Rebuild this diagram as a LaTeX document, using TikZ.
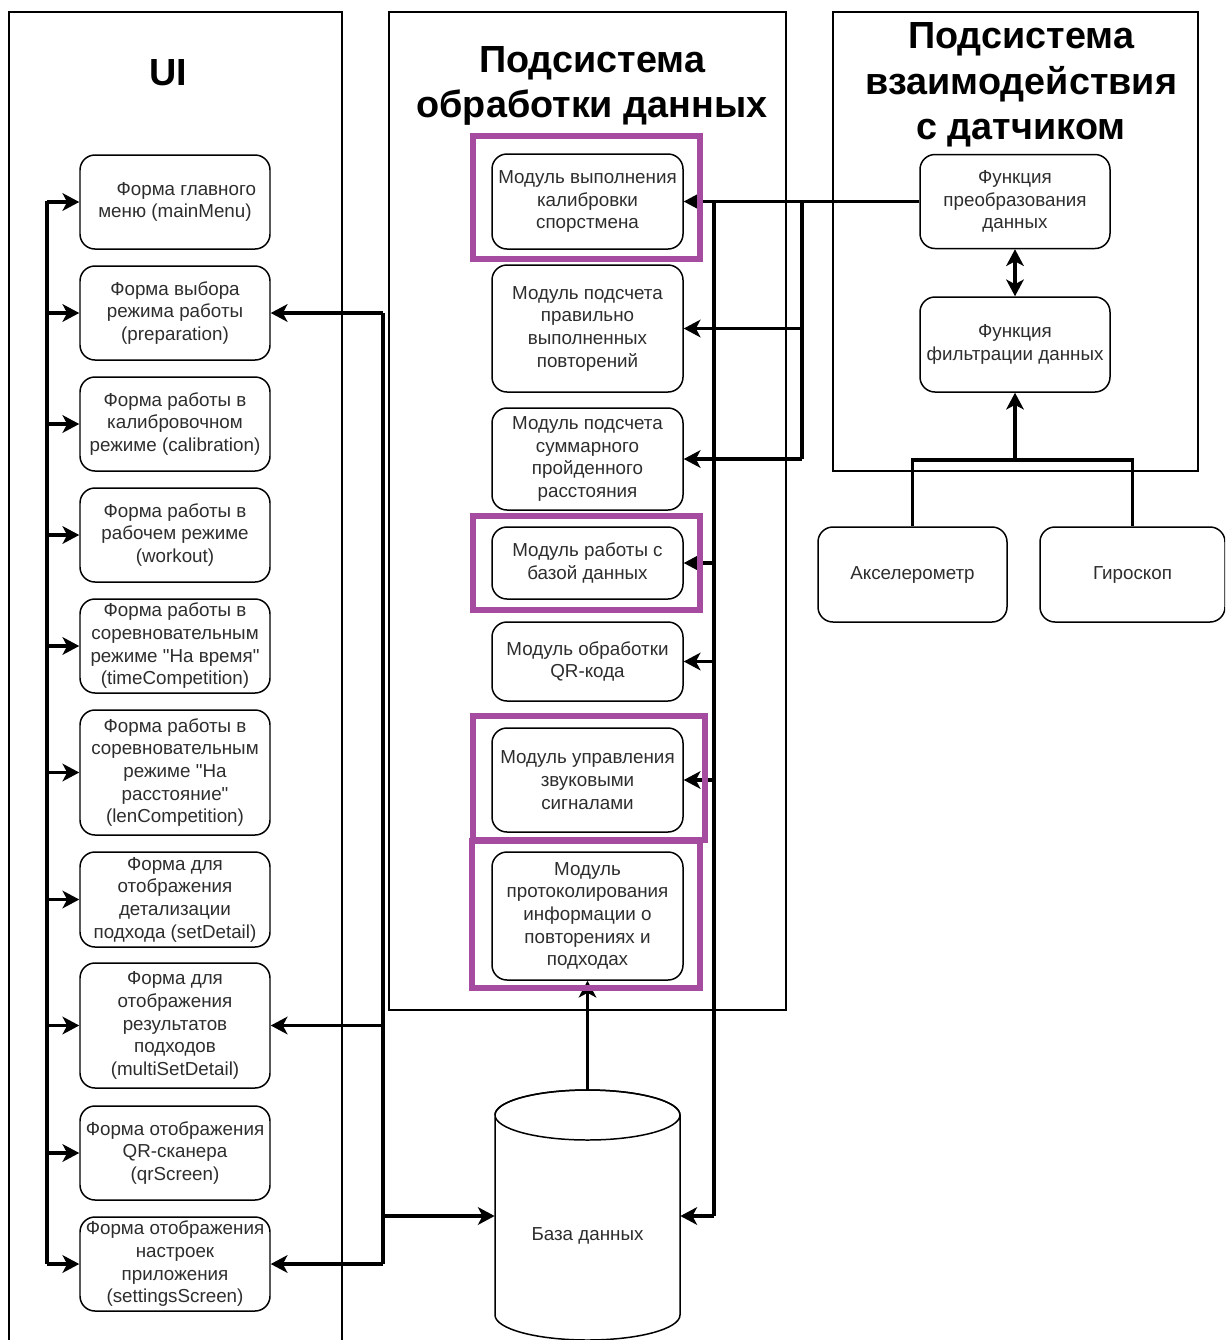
\documentclass[tikz,border=0pt]{standalone}
\usepackage{fontspec}
\setmainfont{Liberation Sans}[Ligatures=TeXOff]
\usetikzlibrary{arrows.meta}
\definecolor{hlpurple}{RGB}{165,75,160}
\definecolor{txt}{RGB}{45,45,45}
\tikzset{
  box/.style n args={2}{draw=black, line width=0.85pt, rounded corners=0.3cm,
    minimum width=#1*0.02cm, minimum height=#2*0.02cm, inner sep=0pt,
    align=center, text=txt, font=\fontsize{10.7pt}{12.9pt}\selectfont},
  container/.style={draw=black, line width=0.85pt},
  title/.style={align=center, font=\bfseries\fontsize{21.5pt}{25.8pt}\selectfont},
  hl/.style n args={2}{draw=hlpurple, line width=3.4pt, minimum width=#1*0.02cm, minimum height=#2*0.02cm, inner sep=0pt},
  tip/.style={Stealth[length=9.5pt,width=10pt,inset=2.6pt]},
  conn/.style={line width=1.9pt, -{Stealth[length=9.5pt,width=10pt,inset=2.6pt]}},
  bus/.style={line width=1.9pt},
  dconn/.style={line width=1.9pt, {Stealth[length=9.5pt,width=10pt,inset=2.6pt]}-{Stealth[length=9.5pt,width=10pt,inset=2.6pt]}}
}
\begin{document}
\begin{tikzpicture}[x=0.02cm,y=-0.02cm]
\useasboundingbox (0,0) rectangle (1225,1340);
\begin{scope}
\clip (0,0) rectangle (1225,1340);
% containers
\draw[container] (9,12) rectangle (342,1360);
\draw[container] (389,12) rectangle (786,1010);
\draw[container] (833,12) rectangle (1198,471);
% titles
\node[title] (tui) at (168,73) {UI};
\node[title] (tproc) at (592,86) {Подсистема\\обработки данных};
\node[title] (tsens) at (1021,85) {Подсистема\\взаимодействия\\с датчиком};

% UI forms
\node[box={190}{94}] (f1) at (175,202) {\hspace*{1.2em}Форма главного\\меню (mainMenu)};
\node[box={190}{94}] (f2) at (175,313) {Форма выбора\\режима работы\\(preparation)};
\node[box={190}{94}] (f3) at (175,424) {Форма работы в\\калибровочном\\режиме (calibration)};
\node[box={190}{94}] (f4) at (175,535) {Форма работы в\\рабочем режиме\\(workout)};
\node[box={190}{94}] (f5) at (175,646) {Форма работы в\\соревновательным\\режиме "На время"\\(timeCompetition)};
\node[box={190}{125}] (f6) at (175,772.5) {Форма работы в\\соревновательным\\режиме "На\\расстояние"\\(lenCompetition)};
\node[box={190}{95}] (f7) at (175,899.5) {Форма для\\отображения\\детализации\\подхода (setDetail)};
\node[box={190}{125}] (f8) at (175,1025.5) {Форма для\\отображения\\результатов\\подходов\\(multiSetDetail)};
\node[box={190}{94}] (f9) at (175,1153) {Форма отображения\\QR-сканера\\(qrScreen)};
\node[box={190}{94}] (f10) at (175,1264) {Форма отображения\\настроек\\приложения\\(settingsScreen)};

% modules
\node[box={191}{95}] (calib) at (587.5,201.5) {Модуль выполнения\\калибровки\\спорстмена};
\node[box={191}{127}] (reps) at (587.5,328.5) {Модуль подсчета\\правильно\\выполненных\\повторений};
\node[box={191}{102}] (dist) at (587.5,459) {Модуль подсчета\\суммарного\\пройденного\\расстояния};
\node[box={191}{72}] (dbm) at (587.5,563) {Модуль работы с\\базой данных};
\node[box={191}{79}] (qr) at (587.5,661.5) {Модуль обработки\\QR-кода};
\node[box={191}{104}] (sound) at (587.5,780) {Модуль управления\\звуковыми\\сигналами};
\node[box={191}{128}] (log) at (587.5,916) {Модуль\\протоколирования\\информации о\\повторениях и\\подходах};

% sensor subsystem
\node[box={190}{94}] (conv) at (1015,201.5) {Функция\\преобразования\\данных};
\node[box={190}{95}] (filt) at (1015,344.5) {Функция\\фильтрации данных};
\node[box={189}{95}] (acc) at (912.5,574.5) {Акселерометр};
\node[box={185}{95}] (gyro) at (1132.5,574.5) {Гироскоп};

% database cylinder
\node[minimum width=185*0.02cm, minimum height=250*0.02cm, inner sep=0pt, text=txt,
  font=\fontsize{10.7pt}{12.9pt}\selectfont, text depth=0pt] (db) at (587.5,1216) {\raisebox{-1.3em}{База данных}};
\draw[line width=0.85pt] (495,1115) -- (495,1315) arc[start angle=180,end angle=360,x radius=92.5,y radius=-25] -- (680,1115)
  arc[start angle=0,end angle=-360,x radius=92.5,y radius=-25];
\draw[line width=0.85pt] (495,1115) arc[start angle=180,end angle=360,x radius=92.5,y radius=25];

% left bus
\coordinate (lbt) at (47,201);
\coordinate (lbb) at (47,1264);
\draw[bus] (lbt) -- (lbb);
\foreach \f in {f1,f2,f3,f4,f5,f6,f7,f8,f9,f10}
  \draw[conn] (lbt |- \f.west) -- (\f.west);

% UI right bus
\coordinate (rbt) at (383,313);
\coordinate (rbb) at (383,1264);
\draw[bus] (rbt) -- (rbb);
\draw[conn] (rbt) -- (f2.east);
\draw[conn] (rbt |- f8.east) -- (f8.east);
\draw[conn] (rbb) -- (f10.east);
\draw[conn] (rbt |- db.west) -- (db.west);

% middle bus
\coordinate (mbt) at (714,201.5);
\coordinate (mbb) at (714,1216);
\coordinate (sbt) at (802,201.5);
\coordinate (sbb) at (802,459);
\draw[conn] (conv.west) -- (calib.east);
\draw[bus] (mbt) -- (mbb);
\draw[conn] (mbb) -- (db.east);
\draw[bus] (sbt) -- (sbb);
\draw[conn] (sbt |- reps.east) -- (reps.east);
\draw[conn] (sbb) -- (dist.east);
\draw[conn] (mbt |- dbm.east) -- (dbm.east);
\draw[conn] (mbt |- qr.east) -- (qr.east);
\draw[conn] (mbt |- sound.east) -- (sound.east);
\draw[conn] (db.north) -- (log.south);

% sensors
\draw[dconn] (conv.south) -- (filt.north);
\coordinate (ja) at (912.5,460);
\coordinate (jg) at (1132.5,460);
\coordinate (jf) at (1015,460);
\draw[bus] (acc.north) -- (ja) -- (jg) -- (gyro.north);
\draw[conn] (jf) -- (filt.south);

% highlights
\node[hl={227}{123}] (h1) at (586.5,197.5) {};
\node[hl={227}{94}] (h2) at (586.5,563) {};
\node[hl={232}{124}] (h3) at (589,778) {};
\node[hl={228}{147}] (h4) at (586,914.5) {};
\end{scope}
\end{tikzpicture}
\end{document}
